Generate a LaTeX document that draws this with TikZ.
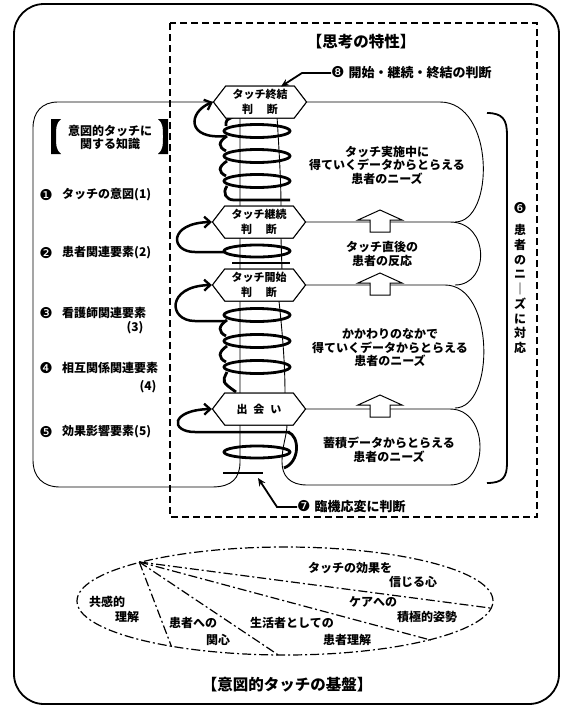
\documentclass[tikz,border=0pt]{standalone}
\usepackage{fontspec}
\setmainfont{Noto Sans CJK JP}
\newfontfamily\symf{DejaVu Sans}
\usetikzlibrary{arrows.meta,shapes.symbols,shapes.geometric,calc}
\newcommand\cnum[1]{{\symf\mdseries\fontsize{15}{15}\selectfont #1}}
\begin{document}
\begin{tikzpicture}[x=1pt,y=-1pt,
  every node/.style={font=\bfseries\fontsize{12}{13.5}\selectfont, inner sep=0pt, align=center},
  hexa/.style={draw, line width=1pt, fill=white, shape=signal, signal to=east and west,
    signal pointer angle=105, minimum width=93pt, minimum height=32pt,
    font=\bfseries\fontsize{11}{15}\selectfont},
  thinl/.style={line width=0.9pt},
  coil/.style={line width=2.8pt},
  loopar/.style={line width=2.5pt, -{Straight Barb[length=6pt,width=11pt,line width=2.3pt]}},
  pointar/.style={line width=1.8pt, -{Stealth[length=8pt,width=7pt]}},
  hollow/.style={draw, line width=1pt, fill=white},
  dashdot/.style={line width=1.2pt, dash pattern=on 9pt off 3pt on 2pt off 3pt},
  lbl/.style={font=\bfseries\fontsize{13}{15}\selectfont},
  ttl/.style={font=\bfseries\fontsize{15.5}{17}\selectfont},
  item/.style={anchor=west},
]
\useasboundingbox (0,0) rectangle (566,710);
\fill[white] (0,0) rectangle (566,710);

% outer border and dashed frame
\draw[line width=1.8pt, rounded corners=30pt] (14,4) rectangle (559,704);
\draw[line width=1.1pt, dash pattern=on 7pt off 4pt] (170,23) rectangle (537,517);

% hexagon nodes (placed first for naming; redrawn on top later)
\path (260,102) node[hexa] (h1) {タッチ終結\\判\hspace{14pt}断};
\path (259,222) node[hexa] (h2) {タッチ継続\\判\hspace{14pt}断};
\path (259,285) node[hexa] (h3) {タッチ開始\\判\hspace{14pt}断};
\path (259,409) node[hexa] (h4) {出\hspace{6pt}会\hspace{6pt}い};

% left knowledge box and tube left wall
\draw[thinl] (h1.west) -- (58,102) .. controls (42,102) and (33,112) .. (33,128)
  -- (33,460) .. controls (33,477) and (43,487) .. (60,487) -- (212,487)
  .. controls (232,487) and (240,478) .. (240,462) -- (240,110);

% right blobs
\draw[thinl] (h1.east) -- (440,102) .. controls (495,102) and (495,222) .. (455,222);
\draw[thinl] (h2.east) -- (450,222) .. controls (490,222) and (490,285) .. (455,285);
\draw[thinl] (h3.east) -- (445,285) .. controls (495,285) and (495,408) .. (455,408);
\draw[thinl] (h4.east) -- (450,409) .. controls (490,409) and (490,485) .. (450,485)
  -- (307,485) .. controls (290,485) and (282,476) .. (282,462)
  .. controls (282,445) and (287,436) .. (287,424);

% tube right wall
\draw[thinl] (277,116) .. controls (279,150) and (281,180) .. (281,207);
\draw[thinl] (281,238) -- (282,270);
\draw[thinl] (279,301) .. controls (282,330) and (285,360) .. (285,394);

% coils section A
\foreach \yy in {131,156,181} \draw[coil] (257,\yy) ellipse [x radius=33, y radius=6.5];
\draw[coil] (233,117) .. controls (226,120) .. (226,126);
\draw[coil] (227,136) .. controls (218,142) and (218,147) .. (226,151);
\draw[coil] (227,161) .. controls (218,167) and (218,172) .. (226,176);
\draw[coil] (227,186) .. controls (222,193) and (226,200) .. (234,200) -- (290,200);
% section B
\draw[coil] (257,251) ellipse [x radius=33, y radius=6];
\draw[coil] (232,263) -- (290,263);
% section C
\foreach \yy in {315,341,367} \draw[coil] (257,\yy) ellipse [x radius=33, y radius=6.5];
\draw[coil] (227,320) .. controls (218,326) and (218,332) .. (226,336);
\draw[coil] (227,346) .. controls (218,352) and (218,358) .. (226,362);
\draw[coil] (227,372) .. controls (222,382) .. (236,392);
% section D
\draw[coil] (257,452) ellipse [x radius=33, y radius=6];
\draw[coil] (288,432) .. controls (300,436) and (300,462) .. (284,468);
\draw[coil] (223,473) -- (263,473);

% hexagons on top
\path (260,102) node[hexa] {タッチ終結\\判\hspace{14pt}断};
\path (259,222) node[hexa] {タッチ継続\\判\hspace{14pt}断};
\path (259,285) node[hexa] {タッチ開始\\判\hspace{14pt}断};
\path (259,409) node[hexa] {出\hspace{6pt}会\hspace{6pt}い};

% loop arrows into hexagons
\draw[loopar] (226,136) .. controls (186,140) and (188,112) .. (h1.west);
\draw[loopar] (226,252) -- (195,252) .. controls (170,252) and (168,223) .. (h2.west);
\draw[loopar] (226,321) -- (195,321) .. controls (168,321) and (166,286) .. (h3.west);
\draw[loopar] (290,432) -- (195,432) .. controls (170,432) and (170,410) .. (h4.west);

% hollow up arrows
\foreach \t in {210,273,395}
  \draw[hollow] (380,\t) -- (402,\t+10) -- (390,\t+10) -- (390,\t+22) -- (370,\t+22)
    -- (370,\t+10) -- (358,\t+10) -- cycle;

% blob texts
\node (b1) at (387,165) {タッチ実施中に\\得ていくデータからとらえる\\患者のニーズ};
\node (b2) at (382,254) {タッチ直後の\\患者の反応};
\node (b3) at (390,348) {かかわりのなかで\\得ていくデータからとらえる\\患者のニーズ};
\node (b4) at (389,450) {蓄積データからとらえる\\患者のニーズ};

% titles and labels
\node[ttl] (t1) at (361,42) {【思考の特性】};
\node[lbl, anchor=west] (n8) at (331,73) {\cnum{❽}\hspace{4pt}開始・継続・終結の判断};
\draw[pointar] (n8.west) -- (302,73) -- ($(h1.north)+(21,1)$);
\node[lbl, anchor=west] (n7) at (297,507) {\cnum{❼}\hspace{4pt}臨機応変に判断};
\draw[pointar] (n7.west) -- (277,507) -- (258,478);

% left box contents
\fill (51,119) -- (61,119) .. controls (56,123) and (56,128) .. (56,135) -- (56,138)
  .. controls (56,145) and (56,150) .. (61,154) -- (51,154) -- cycle;
\fill (168,119) -- (158,119) .. controls (163,123) and (163,128) .. (163,135) -- (163,138)
  .. controls (163,145) and (163,150) .. (158,154) -- (168,154) -- cycle;
\node (kt) at (110,137) [font=\bfseries\fontsize{12}{13}\selectfont] {意図的タッチに\\関する知識};
\node (n1) at (46,195) {\cnum{❶}};
\node[item] (i1) at (62,195) {タッチの意図(1)};
\node (n2) at (46,253) {\cnum{❷}};
\node[item] (i2) at (62,253) {患者関連要素(2)};
\node (n3) at (46,313) {\cnum{❸}};
\node[item] (i3) at (62,313) {看護師関連要素};
\node (i3b) at (135,328) {(3)};
\node (n4) at (46,368) {\cnum{❹}};
\node[item] (i4) at (62,368) {相互関係関連要素};
\node (i4b) at (148,387) {(4)};
\node (n5) at (46,432) {\cnum{❺}};
\node[item] (i5) at (62,432) {効果影響要素(5)};

% right brace and vertical text
\draw[line width=1.8pt] (487,113) .. controls (503,113) and (507,120) .. (507,135)
  -- (507,463) .. controls (507,477) and (503,483) .. (487,483);
\node (n6) at (520,208) {\cnum{❻}};
\node (vt) at (520,289) [font=\bfseries\fontsize{12}{14.75}\selectfont]
  {患\\者\\の\\ニ\\｜\\ズ\\に\\対\\応};

% foundation ellipse
\node[ellipse, draw, dashdot, minimum width=416pt, minimum height=108pt] (el) at (285,601) {};
\coordinate (ap) at (el.165.3);
\draw[dashdot] (ap) -- (el.202.4);
\draw[dashdot] (ap) -- (el.264.7);
\draw[dashdot] (ap) -- (el.345);
\draw[dashdot] (ap) -- (el.358);
\node (e1a) at (350,568) {タッチの効果を};
\node (e1b) at (413,582) {信じる心};
\node (e2a) at (373,602) {ケアへの};
\node (e2b) at (427,617) {積極的姿勢};
\node (e3a) at (107,602) {共感的};
\node (e3b) at (127,617) {理解};
\node (e4a) at (193,623) {患者への};
\node (e4b) at (218,640) {関心};
\node (e5a) at (292,623) {生活者としての};
\node (e5b) at (347,640) {患者理解};
\node[ttl] (t2) at (287,685) {【意図的タッチの基盤】};
\end{tikzpicture}
\end{document}
